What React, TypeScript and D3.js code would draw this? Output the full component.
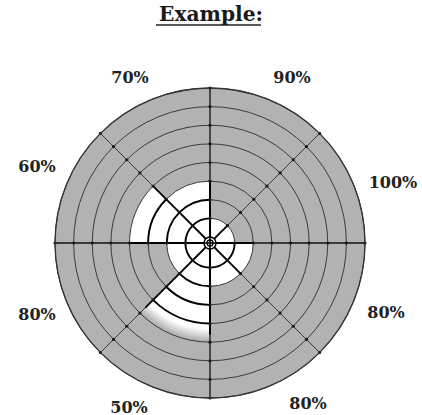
import * as d3 from "d3";
import React from "react";

const width = 422;
const height = 415;
const cx = 210;
const cy = 243;
const outerR = 155;

// sectors run clockwise from 12 o'clock
const sectorLabels = ["90%", "100%", "80%", "80%", "50%", "80%", "60%", "70%"];
// ring index where the grey band starts (grey from there out to the rim)
const fillFrom = [1, 1, 2, 2, 4.6, 2, 4, 3];
// soft (airbrushed) inner edge in px, 0 = sharp
const softEdge = [0, 0, 0, 0, 6, 0, 0, 0];
const ringLevels = [1, 2, 3, 4, 5, 6, 7, 8];

// label anchor points (layout)
const labelPos: [number, number][] = [
  [292, 77], [393, 182], [386, 312], [308, 403],
  [129, 407], [37, 314], [37, 166], [130, 77],
];

const rScale = d3.scaleLinear().domain([0, 8]).range([6, outerR]);
const step = (2 * Math.PI) / sectorLabels.length;
const sectorArc = d3.arc<any>();
const grey = "#b2b2b2";

const ringSeg = (r: number, i: number) => {
  const a0 = i * step - Math.PI / 2;
  const a1 = (i + 1) * step - Math.PI / 2;
  const p = d3.path();
  p.moveTo(r * Math.cos(a0), r * Math.sin(a0));
  p.arc(0, 0, r, a0, a1);
  return p.toString();
};

const App = () => {
  const n = sectorLabels.length;
  return (
    <svg
      width={width}
      height={height}
      style={{ position: "absolute", left: 0, top: 0, background: "#fff" }}
      fontFamily="'DejaVu Serif', serif"
    >
      <defs>
        <clipPath id="disc">
          <circle cx={0} cy={0} r={outerR} />
        </clipPath>
        {softEdge.map((s, i) =>
          s > 0 ? (
            <radialGradient key={i} id={`soft${i}`} gradientUnits="userSpaceOnUse" cx={0} cy={0} r={outerR}>
              <stop offset={(rScale(fillFrom[i]) - s) / outerR} stopColor={grey} stopOpacity={0} />
              <stop offset={(rScale(fillFrom[i]) + s) / outerR} stopColor={grey} stopOpacity={1} />
              <stop offset={1} stopColor={grey} stopOpacity={1} />
            </radialGradient>
          ) : null
        )}
      </defs>

      <text x={211} y={21} textAnchor="middle" fontSize={20} fontWeight="bold" fill="#1a1a1a"
        textLength={104} lengthAdjust="spacingAndGlyphs">
        Example:
      </text>
      <line x1={156} x2={261} y1={25} y2={25} stroke="#222" strokeWidth={1.6} />

      <g transform={`translate(${cx},${cy})`}>
        <g clipPath="url(#disc)">
          {fillFrom.map((f, i) => (
            <path
              key={i}
              fill={softEdge[i] > 0 ? `url(#soft${i})` : grey}
              d={sectorArc({
                innerRadius: softEdge[i] > 0 ? rScale(f) - softEdge[i] : rScale(f),
                outerRadius: outerR,
                startAngle: i * step,
                endAngle: (i + 1) * step,
              }) as string}
            />
          ))}
        </g>

        {fillFrom.map((f, i) =>
          ringLevels.map((k) => {
            const inWhite = k < f;
            return (
              <path
                key={`${i}-${k}`}
                d={ringSeg(rScale(k), i)}
                fill="none"
                stroke={inWhite ? "#000" : "#3a3a3a"}
                strokeWidth={inWhite ? 1.9 : 1}
              />
            );
          })
        )}

        {d3.range(n).map((i) => {
          const a = i * step;
          const dx = Math.sin(a);
          const dy = -Math.cos(a);
          const edge = rScale(Math.max(fillFrom[i], fillFrom[(i + n - 1) % n]));
          const axis = i % 2 === 0;
          return (
            <g key={i}>
              <line x1={0} y1={0} x2={dx * edge} y2={dy * edge} stroke="#000" strokeWidth={axis ? 2 : 1.8} />
              <line x1={dx * edge} y1={dy * edge} x2={dx * outerR} y2={dy * outerR}
                stroke={axis ? "#111" : "#3a3a3a"} strokeWidth={axis ? 1.3 : 1} />
              {ringLevels.map((k) => (
                <circle key={k} cx={dx * rScale(k)} cy={dy * rScale(k)} r={1.6} fill="#1a1a1a" />
              ))}
            </g>
          );
        })}

        <circle r={rScale(0)} fill="#fff" stroke="#000" strokeWidth={1.5} />
        <circle r={3} fill="none" stroke="#000" strokeWidth={1.3} />
        <line x1={-rScale(0)} x2={rScale(0)} y1={0} y2={0} stroke="#000" strokeWidth={1.5} />
        <line y1={-rScale(0)} y2={rScale(0)} x1={0} x2={0} stroke="#000" strokeWidth={1.5} />
        <circle r={outerR} fill="none" stroke="#333" strokeWidth={1.3} />
      </g>

      {sectorLabels.map((t, i) => (
        <text key={i} x={labelPos[i][0]} y={labelPos[i][1]} textAnchor="middle" dominantBaseline="central"
          fontSize={16} fontWeight="bold" fill="#222">
          {t}
        </text>
      ))}
    </svg>
  );
};

export default App;
